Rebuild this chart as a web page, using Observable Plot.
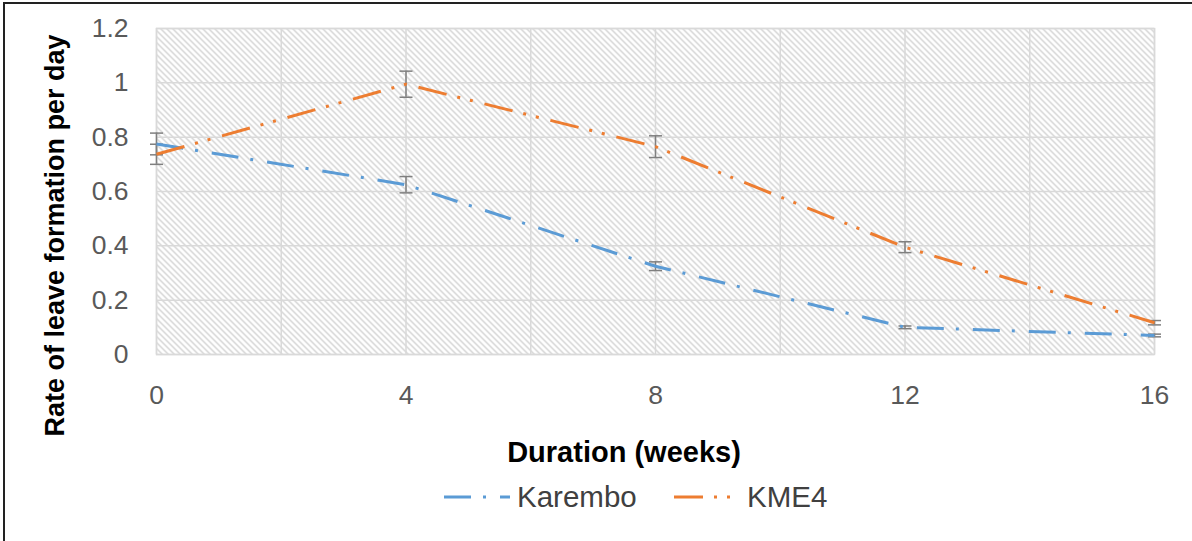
<!DOCTYPE html>
<html><head><meta charset="utf-8">
<script src="https://cdn.jsdelivr.net/npm/d3@7"></script>
<script src="https://cdn.jsdelivr.net/npm/@observablehq/plot@0.6"></script>
<style>
body{margin:0;background:#fff;font-family:"Liberation Sans",Arial,sans-serif;}
#wrap{position:relative;width:1192px;height:541px;overflow:hidden;background:#fff;}
#frame{position:absolute;left:3px;top:2px;width:1300px;height:700px;border-left:2px solid #222;border-top:2px solid #222;pointer-events:none;}
#legend{position:absolute;left:0;top:470px;width:1192px;height:71px;}
.item{position:absolute;top:12px;height:30px;display:flex;align-items:center;font-size:29.5px;color:#404040;}
.item svg{margin-right:7px;}
</style></head><body>
<div id="wrap"><div id="chart"></div><div id="legend"></div><div id="frame"></div></div>
<script>
const weeks = [0, 4, 8, 12, 16];
const karembo = [0.775, 0.625, 0.325, 0.100, 0.070];
const karemboErr = [0.040, 0.030, 0.016, 0.005, 0.005];
const kme4 = [0.737, 0.995, 0.765, 0.395, 0.117];
const kme4Err = [0.037, 0.048, 0.040, 0.020, 0.008];
const seriesNames = ["Karembo", "KME4"];
const seriesColors = ["#5b9bd5", "#ed7d31"];
const seriesDash = ["27,12,3,14", "29,11,3,10,3,12"];
const xTicks = [0, 4, 8, 12, 16];
const xGrid = [0, 2, 4, 6, 8, 10, 12, 14, 16];
const yTicks = [0, 0.2, 0.4, 0.6, 0.8, 1, 1.2];
const xTitle = "Duration (weeks)";
const yTitle = "Rate of leave formation per day";

const rows = weeks.flatMap((w, i) => [
  {series: seriesNames[0], week: w, value: karembo[i], err: karemboErr[i]},
  {series: seriesNames[1], week: w, value: kme4[i], err: kme4Err[i]}
]);

const capSymbol = {draw(ctx) { ctx.moveTo(-6.5, 0); ctx.lineTo(6.5, 0); }};

const plot = Plot.plot({
  width: 1192,
  height: 470,
  marginLeft: 156,
  marginRight: 38,
  marginTop: 28,
  marginBottom: 116,
  style: {fontFamily: "'Liberation Sans', Arial, sans-serif", fontSize: "26px", background: "transparent"},
  x: {domain: [0, 16], axis: null},
  y: {domain: [0, 1.2], axis: null},
  color: {domain: seriesNames, range: seriesColors},
  marks: [
    Plot.frame({fill: "url(#hatch)", stroke: "none", ariaLabel: "hatch-frame"}),
    Plot.gridX(xGrid, {stroke: "#d9d9d9", strokeOpacity: 1, strokeWidth: 1.5}),
    Plot.gridY(yTicks, {stroke: "#d9d9d9", strokeOpacity: 1, strokeWidth: 1.5}),
    Plot.frame({stroke: "#d9d9d9", strokeWidth: 1.5}),
    Plot.axisX(xTicks, {tickSize: 0, tickPadding: 31, fontSize: 26.5, fill: "#595959", label: null}),
    Plot.axisY(yTicks, {tickSize: 0, tickPadding: 28, fontSize: 26.5, fill: "#595959", label: null,
      tickFormat: d => String(+d.toFixed(1))}),
    Plot.ruleX(rows, {x: "week", y1: d => d.value - d.err, y2: d => d.value + d.err, stroke: "#7f7f7f", strokeWidth: 1.5}),
    Plot.dot(rows, {x: "week", y: d => d.value + d.err, symbol: capSymbol, stroke: "#7f7f7f", strokeWidth: 1.5, fill: "none"}),
    Plot.dot(rows, {x: "week", y: d => d.value - d.err, symbol: capSymbol, stroke: "#7f7f7f", strokeWidth: 1.5, fill: "none"}),
    ...seriesNames.map((s, i) => Plot.line(rows.filter(d => d.series === s), {
      x: "week", y: "value", stroke: "series", strokeWidth: 3, strokeDasharray: seriesDash[i], strokeLinecap: "butt"
    })),
    Plot.text([xTitle], {text: d => d, frameAnchor: "bottom", lineAnchor: "bottom", textAnchor: "middle", dy: 107, dx: -31.5,
      fontWeight: "bold", fontSize: 29, fill: "#000"}),
    Plot.text([yTitle], {text: d => d, frameAnchor: "left", lineAnchor: "bottom", textAnchor: "middle", rotate: -90, dx: -92.5, dy: 44,
      fontWeight: "bold", fontSize: 27, fill: "#000"})
  ]
});

const svg = d3.select(plot);
const defs = svg.insert("defs", ":first-child");
const pat = defs.append("pattern").attr("id", "hatch").attr("patternUnits", "userSpaceOnUse")
  .attr("width", 6).attr("height", 6);
pat.append("rect").attr("width", 6).attr("height", 6).attr("fill", "#fff");
pat.append("path").attr("d", "M0,0L6,6M-1,5L1,7M5,-1L7,1").attr("stroke", "#c4c4c4").attr("stroke-width", 1.1);
svg.select('g[aria-label="hatch-frame"] rect').attr("fill", "url(#hatch)");
svg.select('g[aria-label="hatch-frame"]').attr("fill", "url(#hatch)");

document.getElementById("chart").appendChild(plot);

// legend
const legend = d3.select("#legend");
const legendX = [444, 674];
seriesNames.forEach((s, i) => {
  const item = legend.append("div").attr("class", "item").style("left", legendX[i] + "px");
  const sw = item.append("svg").attr("width", 66).attr("height", 10);
  sw.append("line").attr("x1", 0).attr("x2", 66).attr("y1", 5).attr("y2", 5)
    .attr("stroke", seriesColors[i]).attr("stroke-width", 3).attr("stroke-dasharray", seriesDash[i]);
  item.append("span").text(s);
});
</script>
</body></html>
